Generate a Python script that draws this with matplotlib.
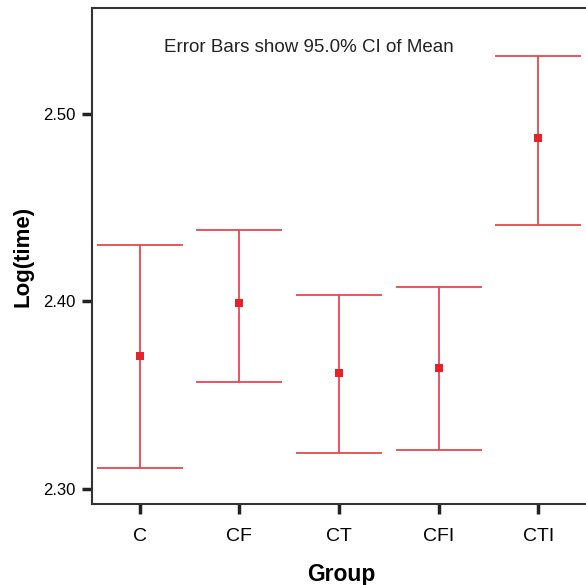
import numpy as np
import matplotlib.pyplot as plt

plt.rcParams['font.family'] = ['Liberation Sans', 'DejaVu Sans']

# Datos
grupos = ['C', 'CF', 'CT', 'CFI', 'CTI']
medias = [2.371, 2.399, 2.362, 2.3645, 2.487]
ic_inf = [2.311, 2.357, 2.319, 2.321, 2.441]
ic_sup = [2.430, 2.438, 2.4035, 2.4075, 2.531]

x = np.arange(1, len(grupos) + 1)
medias = np.array(medias)
err_inf = medias - np.array(ic_inf)
err_sup = np.array(ic_sup) - medias

fig = plt.figure(figsize=(5.86, 5.85), dpi=100)
ax = fig.add_axes([92 / 586, 1 - 504 / 585, 498 / 586, 496 / 585])

ax.errorbar(x, medias, yerr=[err_inf, err_sup], fmt='none', ecolor='#e8474f',
            elinewidth=1.3, capsize=31, capthick=1.3)
ax.plot(x, medias, 's', color='#e8222b', markersize=5.5, markeredgewidth=0)

ax.set_xlim(0.52, 5.52)
ax.set_ylim(2.292, 2.5565)
ax.set_xticks(x)
ax.set_xticklabels(grupos, fontsize=14)
ax.set_yticks([2.30, 2.40, 2.50])
ax.set_yticklabels(['2.30', '2.40', '2.50'], fontsize=12)
ax.tick_params(direction='out', length=7, width=2.5, color='#222222')
ax.tick_params(axis='x', pad=10)
ax.tick_params(axis='y', pad=5)

for lado in ['top', 'left', 'bottom']:
    ax.spines[lado].set_linewidth(1.5)
    ax.spines[lado].set_color('#333333')
ax.spines['right'].set_visible(False)

ax.text(0.435, 0.92, 'Error Bars show 95.0% CI of Mean', transform=ax.transAxes,
        ha='center', va='center', fontsize=13.5, color='#222222')

ax.set_xlabel('Group', fontsize=16.5, fontweight='bold', labelpad=13)
ax.set_ylabel('Log(time)', fontsize=16, fontweight='bold', labelpad=7)

fig.savefig('out.png', dpi=100)
